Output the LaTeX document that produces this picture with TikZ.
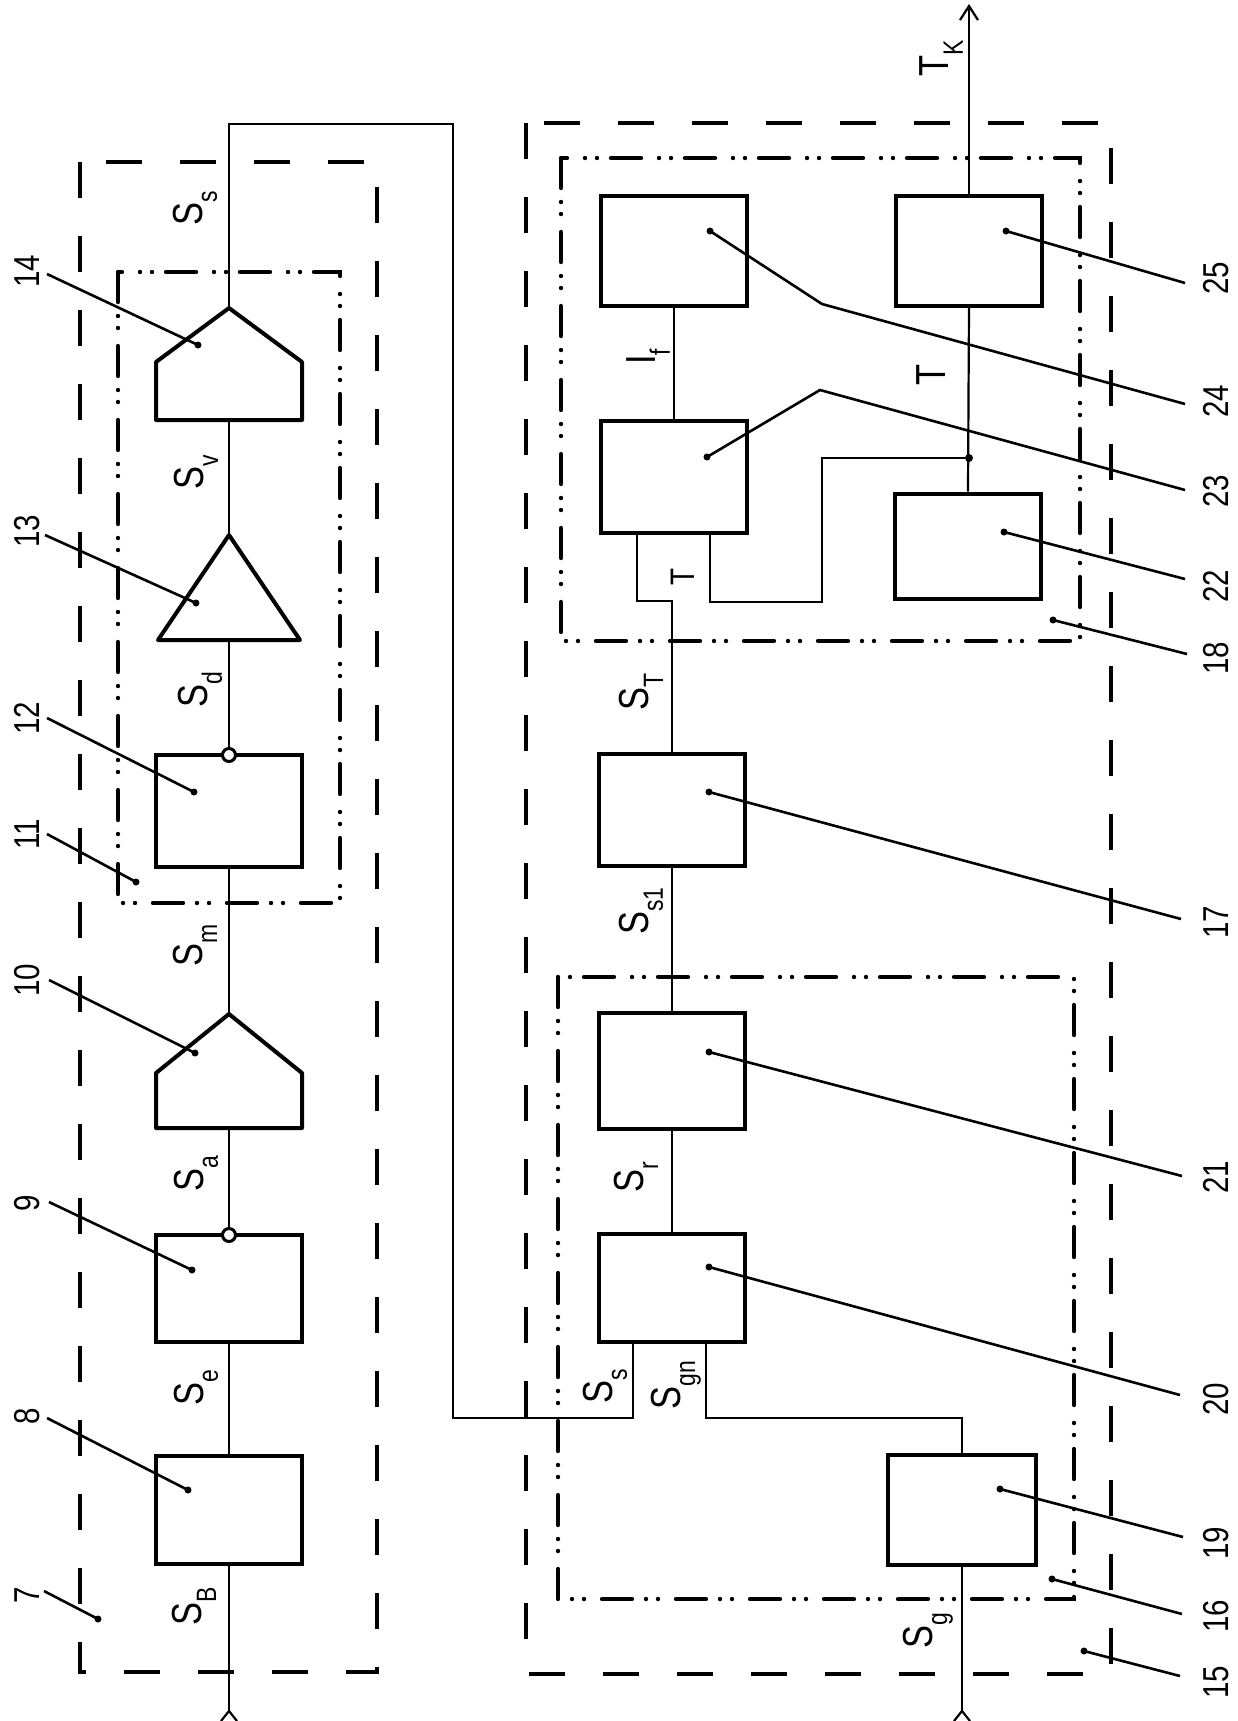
\documentclass[tikz,border=0pt]{standalone}
\usepackage{fontspec}
\setmainfont[FakeStretch=0.82]{Liberation Sans}
\usetikzlibrary{arrows.meta}
\newcommand\sglab[2]{#1\raisebox{-0.35em}{\fontsize{14pt}{14pt}\selectfont #2}}
\begin{document}
\begin{tikzpicture}[x=0.5pt,y=-0.5pt,
  blk/.style={draw, line width=2pt, minimum width=73pt, minimum height=55pt, inner sep=0pt},
  shp/.style={line width=2pt, line join=round},
  wire/.style={line width=1.1pt},
  ldr/.style={line width=1.3pt},
  dsh/.style={line width=2.4pt, dash pattern=on 18pt off 19pt},
  ddot/.style={line width=2.2pt, line cap=round, dash pattern=on 15pt off 7pt on 0pt off 6pt on 0pt off 9pt},
  num/.style={rotate=90, font=\fontsize{18pt}{18pt}\selectfont, inner sep=0pt},
  sl/.style={rotate=90, font=\fontsize{21pt}{21pt}\selectfont, inner sep=0pt},
  ring/.style={draw, circle, line width=1.5pt, fill=white, minimum size=6.5pt, inner sep=0pt}]
\useasboundingbox[fill=white] (0,0) rectangle (1238,1721);

% dashed frames
\draw[dsh] (80,162) rectangle (377,1672);
\draw[dsh] (526,123) rectangle (1111,1674);
\draw[ddot] (118,272) rectangle (340,903);
\draw[ddot] (561,158) rectangle (1080,641);
\draw[ddot] (558,977) rectangle (1074,1599);

% left chain shapes
\coordinate (p14t) at (229,308); \coordinate (p14b) at (229,420);
\draw[shp] (p14t) -- (302,362) -- (302,420) -- (156,420) -- (156,362) -- cycle;
\coordinate (t13t) at (229,535); \coordinate (t13b) at (229,640);
\draw[shp] (t13t) -- (300,640) -- (158,640) -- cycle;
\coordinate (p10t) at (229,1014); \coordinate (p10b) at (229,1128);
\draw[shp] (p10t) -- (302,1073) -- (302,1128) -- (156,1128) -- (156,1073) -- cycle;
\node[blk, minimum height=56pt] (b12) at (229,811) {};
\node[blk, minimum height=53.5pt] (b9) at (229,1288) {};
\node[blk, minimum height=54pt] (b8) at (229,1510) {};

% right blocks
\node[blk] (b24) at (674,251) {};
\node[blk] (b25) at (969,251) {};
\node[blk, minimum height=56pt] (b23) at (674,477) {};
\node[blk, minimum height=52.5pt] (b22) at (968,546) {};
\node[blk, minimum height=56pt] (b17) at (672,810) {};
\node[blk, minimum height=58pt] (b21) at (672,1071) {};
\node[blk, minimum height=54pt] (b20) at (672,1288) {};
\node[blk, minimum width=74pt] (b19) at (962,1510) {};

% left wires
\coordinate (ssA) at (229,124); \coordinate (ssB) at (453,124); \coordinate (ssC) at (453,1418);
\coordinate (in20a) at (633,1342); \coordinate (in20b) at (706,1342);
\draw[wire] (p14t) -- (ssA) -- (ssB) -- (ssC) -| (in20a);
\draw[wire] (p14b) -- (t13t);
\draw[wire] (t13b) -- (229,755);
\draw[wire] (b12.south) -- (p10t);
\draw[wire] (p10b) -- (229,1235);
\draw[wire] (b9.south) -- (b8.north);
\coordinate (inB) at (229,1711);
\draw[wire] (b8.south) -- (inB);
\draw[wire] (221,1721) -- (inB) -- (237,1721);
\node[ring] (c12) at (229,755) {};
\node[ring] (c9) at (229,1235) {};

% right wires
\draw[wire] (in20b) -- (706,1418) -| (b19.north);
\coordinate (inG) at (962,1711);
\draw[wire] (b19.south) -- (inG);
\draw[wire] (954,1721) -- (inG) -- (970,1721);
\draw[wire] (b20.north) -- (b21.south);
\draw[wire] (b21.north) -- (b17.south);
\coordinate (o23a) at (637,533); \coordinate (o23b) at (710,533);
\draw[wire] (b17.north) -- (672,601) -| (o23a);
\coordinate (jn) at (969,458);
\draw[wire] (o23b) -- (710,602) -- (822,602) -- (822,458) -- (jn);
\fill (jn) circle (4);
\draw[wire] (b24.south) -- (b23.north);
\draw[wire] (b25.south) -- (b22.north);
\coordinate (tk) at (969,4);
\draw[wire, -{Straight Barb[length=7pt,width=9pt,line width=1.1pt]}] (b25.north) -- (tk);

% signal labels
\node[sl] (lSs) at (195,208) {\sglab{S}{s}};
\node[sl] (lSv) at (196,472) {\sglab{S}{v}};
\node[sl] (lSd) at (200,690) {\sglab{S}{d}};
\node[sl] (lSm) at (195,945) {\sglab{S}{m}};
\node[sl] (lSa) at (196,1174) {\sglab{S}{a}};
\node[sl] (lSe) at (196,1388) {\sglab{S}{e}};
\node[sl] (lSB) at (194,1606) {\sglab{S}{B}};
\node[sl] (lST) at (641,692) {\sglab{S}{T}};
\node[sl] (lSs1) at (641,911) {\sglab{S}{s1}};
\node[sl] (lSr) at (636,1177) {\sglab{S}{r}};
\node[sl] (lSs2) at (605,1386) {\sglab{S}{s}};
\node[sl] (lSgn) at (676,1385) {\sglab{S}{gn}};
\node[sl] (lSg) at (928,1631) {\sglab{S}{g}};
\node[sl] (lIf) at (648,357) {\sglab{I}{f}};
\node[sl] (lT1) at (931,375) {T};
\node[sl, font=\fontsize{17pt}{17pt}\selectfont] (lT2) at (683,577) {T};
\node[sl] (lTK) at (941,58) {\sglab{T}{K}};

% reference numerals and leaders
\foreach \n/\lx/\ly/\dx/\dy/\ex/\ey in {
  14/27/271/198/345/47/274, 13/27/531/196/603/45/535, 12/27/718/194/792/47/718,
  11/27/834/136/882/47/834, 10/27/980/195/1053/49/980, 9/27/1203/192/1270/49/1202,
  8/27/1416/188/1490/47/1418, 7/27/1595/98/1619/44/1591,
  25/1216/278/1006/231/1185/283, 22/1216/586/1004/532/1185/579,
  18/1216/658/1053/620/1187/654, 17/1216/922/709/792/1181/919,
  21/1216/1177/709/1052/1182/1176, 20/1216/1399/709/1267/1180/1395,
  19/1216/1543/1000/1489/1183/1537, 16/1216/1616/1052/1579/1182/1614,
  15/1216/1682/1084/1651/1180/1676}{
  \node[num] (n\n) at (\lx,\ly) {\n};
  \coordinate (d\n) at (\dx,\dy);
  \coordinate (e\n) at (\ex,\ey);
  \draw[ldr] (d\n) -- (e\n);
  \fill (d\n) circle (3.5);
}
\node[num] (n24) at (1216,401) {24};
\coordinate (d24) at (710,231); \coordinate (k24) at (822,304); \coordinate (e24) at (1185,404);
\draw[ldr] (d24) -- (k24) -- (e24); \fill (d24) circle (3.5);
\node[num] (n23) at (1216,491) {23};
\coordinate (d23) at (707,457); \coordinate (k23) at (820,390); \coordinate (e23) at (1185,490);
\draw[ldr] (d23) -- (k23) -- (e23); \fill (d23) circle (3.5);
\end{tikzpicture}
\end{document}
